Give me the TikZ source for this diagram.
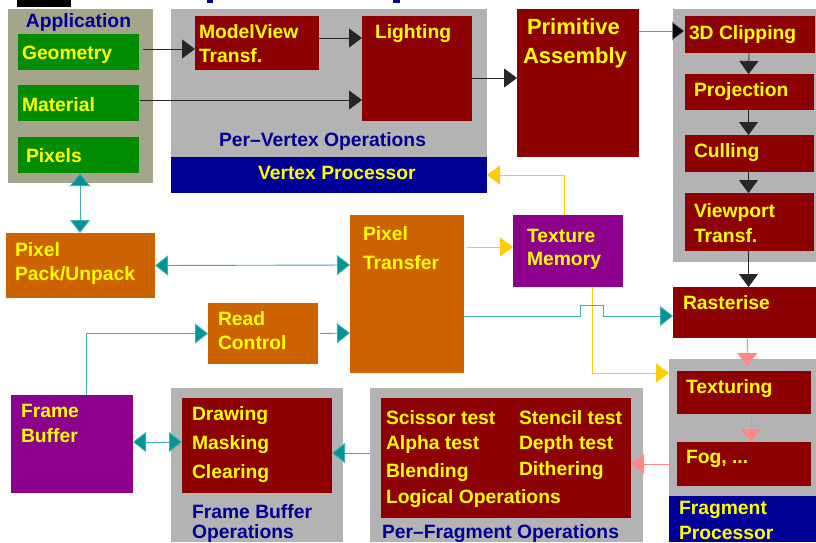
\documentclass[tikz,border=0pt]{standalone}
\usepackage{fontspec}
\setmainfont{Liberation Sans}
\usetikzlibrary{arrows.meta}
\definecolor{dred}{RGB}{140,0,0}
\definecolor{dgreen}{RGB}{0,140,0}
\definecolor{orng}{RGB}{204,98,0}
\definecolor{purp}{RGB}{140,0,140}
\definecolor{pgray}{RGB}{179,179,179}
\definecolor{khaki}{RGB}{165,165,140}
\definecolor{pblue}{RGB}{0,0,150}
\definecolor{tblue}{RGB}{0,0,144}
\definecolor{tealc}{RGB}{0,148,148}
\definecolor{yell}{RGB}{255,204,0}
\definecolor{pinkc}{RGB}{255,136,136}
\definecolor{ytext}{RGB}{255,255,0}
\tikzset{
  bx/.style={anchor=north west,inner sep=0pt,outer sep=0pt},
  tx/.style={anchor=base west,inner sep=0pt,outer sep=0pt,font=\fontsize{19.3}{23}\selectfont\bfseries},
  yt/.style={tx,text=ytext},
  bt/.style={tx,text=tblue},
  blk/.style={draw=black!85,line width=0.8pt,-{Triangle[length=13pt,width=19pt]}},
  gryline/.style={draw=black!45,line width=0.8pt,-{Triangle[length=13pt,width=19pt,fill=black]}},
  tl/.style={draw=tealc!75,line width=0.9pt,-{Triangle[length=13pt,width=20pt,fill=tealc]}},
  tld/.style={draw=tealc!75,line width=0.9pt,{Triangle[length=13pt,width=20pt,fill=tealc]}-{Triangle[length=13pt,width=20pt,fill=tealc]}},
  yl/.style={draw=yell,line width=0.8pt,-{Triangle[length=13pt,width=19pt]}},
  pl/.style={draw=pinkc,line width=0.9pt,-{Triangle[length=13pt,width=20pt]}},
}
\begin{document}
\begin{tikzpicture}[x=1pt,y=-1pt]
\useasboundingbox[fill=white] (0,0) rectangle (816,542);
% top fragments
\fill[black] (17,0) rectangle (71,7);
\fill[tblue] (207,0) rectangle (213,3);
\fill[tblue] (393,0) rectangle (400,3);
% Application
\node[bx,fill=khaki,minimum width=145pt,minimum height=174pt] (app) at (8,9) {};
\node[bx,fill=dgreen,minimum width=121pt,minimum height=36pt] (geom) at (18,34) {};
\node[bx,fill=dgreen,minimum width=121pt,minimum height=36pt] (mat) at (18,85) {};
\node[bx,fill=dgreen,minimum width=121pt,minimum height=36pt] (pix) at (18,137) {};
\node[bt,anchor=base] (tapp) at (78.5,27) {Application};
\node[yt] (tgeom) at (22,59) {Geometry};
\node[yt] (tmat) at (22,111) {Material};
\node[yt] (tpix) at (26,162) {Pixels};
% Vertex processor
\node[bx,fill=pgray,minimum width=316pt,minimum height=148pt] (vp) at (171,9) {};
\node[bx,fill=pblue,minimum width=316pt,minimum height=36pt] (vpbar) at (171,157) {};
\node[bx,fill=dred,minimum width=124pt,minimum height=54pt] (mv) at (195,16) {};
\node[bx,fill=dred,minimum width=110pt,minimum height=105pt] (light) at (362,16) {};
\node[yt] (tmv1) at (199,38) {ModelView};
\node[yt] (tmv2) at (199,62) {Transf.};
\node[yt] (tlight) at (375,38) {Lighting};
\node[bt] (tpvo) at (219,146) {Per\textendash Vertex Operations};
\node[yt] (tvp) at (258,179) {Vertex Processor};
% Primitive assembly
\node[bx,fill=dred,minimum width=122pt,minimum height=148pt] (prim) at (517,9) {};
\node[yt,font=\fontsize{22}{26}\selectfont\bfseries] (tprim1) at (527,34) {Primitive};
\node[yt,font=\fontsize{22}{26}\selectfont\bfseries] (tprim2) at (523,63) {Assembly};
% Geometry panel
\node[bx,fill=pgray,minimum width=143pt,minimum height=253pt] (gp) at (673,9) {};
\node[bx,fill=dred,minimum width=130pt,minimum height=37pt] (clip) at (685,16) {};
\node[bx,fill=dred,minimum width=129pt,minimum height=36pt] (proj) at (685,74) {};
\node[bx,fill=dred,minimum width=129pt,minimum height=37pt] (cull) at (685,135) {};
\node[bx,fill=dred,minimum width=129pt,minimum height=58pt] (view) at (685,193) {};
\node[yt] (tclip) at (689,39) {3D Clipping};
\node[yt] (tproj) at (694,96) {Projection};
\node[yt] (tcull) at (694,157) {Culling};
\node[yt] (tview1) at (694,217) {Viewport};
\node[yt] (tview2) at (694,242) {Transf.};
% Rasterise
\node[bx,fill=dred,minimum width=143pt,minimum height=51pt] (rast) at (673,287) {};
\node[yt] (trast) at (683,309) {Rasterise};
% Fragment processor
\node[bx,fill=pgray,minimum width=147pt,minimum height=137pt] (fragp) at (669,359) {};
\node[bx,fill=pblue,minimum width=147pt,minimum height=46pt] (fragbar) at (669,496) {};
\node[bx,fill=dred,minimum width=134pt,minimum height=43pt] (tex) at (677,371) {};
\node[bx,fill=dred,minimum width=134pt,minimum height=44pt] (fog) at (677,442) {};
\node[yt] (ttex) at (686,393) {Texturing};
\node[yt] (tfog) at (686,463) {Fog, ...};
\node[yt] (tfp1) at (679,514) {Fragment};
\node[yt] (tfp2) at (679,539) {Processor};
% Per-fragment
\node[bx,fill=pgray,minimum width=273pt,minimum height=154pt] (pfp) at (370,388) {};
\node[bx,fill=dred,minimum width=250pt,minimum height=120pt] (pfbox) at (381,398) {};
\node[yt] (tsc) at (386,424) {Scissor test};
\node[yt] (tal) at (386,449) {Alpha test};
\node[yt] (tbl) at (386,477) {Blending};
\node[yt] (tlo) at (386,503) {Logical Operations};
\node[yt] (tst) at (519,424) {Stencil test};
\node[yt] (tde) at (519,449) {Depth test};
\node[yt] (tdi) at (519,475) {Dithering};
\node[bt] (tpfo) at (382,538) {Per\textendash Fragment Operations};
% Frame buffer ops
\node[bx,fill=pgray,minimum width=172pt,minimum height=154pt] (fbop) at (171,388) {};
\node[bx,fill=dred,minimum width=150pt,minimum height=95pt] (fbobox) at (182,398) {};
\node[yt] (tdr) at (192,420) {Drawing};
\node[yt] (tma) at (192,449) {Masking};
\node[yt] (tcl) at (192,478) {Clearing};
\node[bt] (tfbo1) at (192,518) {Frame Buffer};
\node[bt] (tfbo2) at (192,538) {Operations};
% Frame buffer
\node[bx,fill=purp,minimum width=122pt,minimum height=98pt] (fb) at (11,395) {};
\node[yt] (tfb1) at (21,417) {Frame};
\node[yt] (tfb2) at (21,442) {Buffer};
% Pixel path
\node[bx,fill=orng,minimum width=110pt,minimum height=61pt] (rc) at (208,303) {};
\node[yt] (trc1) at (218,325) {Read};
\node[yt] (trc2) at (218,349) {Control};
\node[bx,fill=orng,minimum width=149pt,minimum height=65pt] (pack) at (6,233) {};
\node[yt] (tpk1) at (15,256) {Pixel};
\node[yt] (tpk2) at (15,280) {Pack/Unpack};
\node[bx,fill=orng,minimum width=114pt,minimum height=158pt] (pt) at (350,215) {};
\node[yt] (tpt1) at (363,240) {Pixel};
\node[yt] (tpt2) at (363,269) {Transfer};
\node[bx,fill=purp,minimum width=110pt,minimum height=72pt] (tm) at (513,215) {};
\node[yt] (ttm1) at (527,242) {Texture};
\node[yt] (ttm2) at (527,265) {Memory};
% connectors
\draw[blk] ([xshift=4pt,yshift=3pt]geom.east) -- ([yshift=-6pt]mv.west);
\draw[blk] ([yshift=5pt]mv.east) -- ([yshift=30.5pt]light.west);
\draw[blk] ([xshift=1pt,yshift=3pt]mat.east) -- ([yshift=-31.5pt]light.west);
\draw[blk] ([yshift=-9.5pt]light.east) -- ([yshift=5pt]prim.west);
\draw[gryline] ([yshift=52pt]prim.east) -- ([yshift=3.5pt]clip.west);
\draw[blk] ([xshift=-1pt]clip.south) -- ([xshift=-1pt]proj.north);
\draw[blk] ([xshift=-1pt]proj.south) -- ([xshift=-1pt]cull.north);
\draw[blk] ([xshift=-1pt]cull.south) -- ([xshift=-1pt]view.north);
\draw[blk] ([xshift=-1pt]view.south) -- ([xshift=4pt]rast.north);
\draw[pl] ([xshift=3pt]rast.south) -- ([xshift=3pt,yshift=5pt]tex.north);
\draw[pl] ([xshift=7pt]tex.south) -- ([xshift=7pt]fog.north);
\draw[pl] ([xshift=-4pt]fog.west) -- ([yshift=-6pt]pfbox.east);
\draw[tl] ([xshift=-11pt,yshift=5pt]pfbox.west) -- ([yshift=-7.5pt]fbobox.east);
\draw[tld] ([yshift=2pt]fb.east) -- ([yshift=3.5pt]fbobox.west);
\draw[tl] ([xshift=14pt]fb.north) |- (rc.west);
\draw[tl] ([xshift=2pt]rc.east) -- ([yshift=-39pt]pt.west);
\draw[tld] (pack.east) -- ([yshift=29pt]pt.west);
\draw[tld] ([xshift=1.5pt]pix.south) -- ([xshift=-0.5pt]pack.north);
\draw[yl] ([xshift=3pt,yshift=47pt]pt.east) -- ([yshift=4pt]tm.west);
\draw[yl] ([xshift=-4pt]tm.north) |- (vpbar.east);
\draw[yl] ([xshift=24pt]tm.south) |- ([yshift=54.5pt]fragp.west);
\draw[tl] ([yshift=-22pt]pt.east) -- ++(116,0) -- ++(0,-11) -- ++(23,0) -- ++(0,11) -- ([yshift=-3.5pt]rast.west);
\end{tikzpicture}
\end{document}
